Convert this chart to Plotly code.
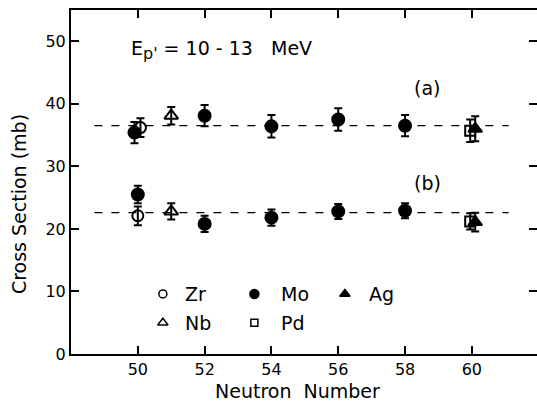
import plotly.graph_objects as go

# ---- data ----
# set (a)
a_Zr_x = [50.08];  a_Zr_y = [36.2];  a_Zr_e = [1.5]
a_Mo_x = [49.9, 52, 54, 56, 58]; a_Mo_y = [35.4, 38.1, 36.4, 37.5, 36.5]; a_Mo_e = [1.7, 1.7, 1.8, 1.8, 1.7]
a_Nb_x = [51];     a_Nb_y = [38.1];  a_Nb_e = [1.4]
a_Pd_x = [59.95];  a_Pd_y = [35.7];  a_Pd_e = [1.8]
a_Ag_x = [60.1];   a_Ag_y = [36.0];  a_Ag_e = [2.0]
# set (b)
b_Zr_x = [50];     b_Zr_y = [22.1];  b_Zr_e = [1.5]
b_Mo_x = [50, 52, 54, 56, 58]; b_Mo_y = [25.5, 20.8, 21.8, 22.8, 22.9]; b_Mo_e = [1.4, 1.3, 1.3, 1.2, 1.2]
b_Nb_x = [51];     b_Nb_y = [22.8];  b_Nb_e = [1.3]
b_Pd_x = [59.95];  b_Pd_y = [21.2];  b_Pd_e = [1.3]
b_Ag_x = [60.1];   b_Ag_y = [21.1];  b_Ag_e = [1.5]
# mean lines
mean_x = [48.7, 61.1]
mean_a = 36.5
mean_b = 22.6

x_ticks = [50, 52, 54, 56, 58, 60]
y_ticks = [0, 10, 20, 30, 40, 50]

FONT = "DejaVu Sans"
styles = {
    "Zr": dict(symbol="circle-open", size=11),
    "Mo": dict(symbol="circle", size=12),
    "Nb": dict(symbol="triangle-up-open", size=12),
    "Pd": dict(symbol="square-open", size=10),
    "Ag": dict(symbol="triangle-up", size=12),
}

fig = go.Figure()

for yv in (mean_a, mean_b):
    fig.add_trace(go.Scatter(x=mean_x, y=[yv, yv], mode="lines",
                             line=dict(color="black", width=1.3, dash="8px,9px"),
                             showlegend=False, hoverinfo="skip"))

series = [
    ("Zr", a_Zr_x, a_Zr_y, a_Zr_e), ("Zr", b_Zr_x, b_Zr_y, b_Zr_e),
    ("Nb", a_Nb_x, a_Nb_y, a_Nb_e), ("Nb", b_Nb_x, b_Nb_y, b_Nb_e),
    ("Pd", a_Pd_x, a_Pd_y, a_Pd_e), ("Pd", b_Pd_x, b_Pd_y, b_Pd_e),
    ("Mo", a_Mo_x, a_Mo_y, a_Mo_e), ("Mo", b_Mo_x, b_Mo_y, b_Mo_e),
    ("Ag", a_Ag_x, a_Ag_y, a_Ag_e), ("Ag", b_Ag_x, b_Ag_y, b_Ag_e),
]
for name, xs, ys, es in series:
    st = styles[name]
    fig.add_trace(go.Scatter(
        x=xs, y=ys, mode="markers", name=name, showlegend=False,
        marker=dict(symbol=st["symbol"], size=st["size"], color="black",
                    line=dict(color="black", width=2)),
        error_y=dict(type="data", array=es, visible=True, color="black",
                     thickness=2, width=4),
    ))

# custom legend (markers in data space, labels as annotations)
legend_items = [("Zr", 50.75, 9.6, 0.6), ("Mo", 53.49, 9.6, 0.75), ("Ag", 56.2, 9.6, 0.65),
                ("Nb", 50.75, 5.0, 0.6), ("Pd", 53.49, 5.0, 0.75)]
for name, lx, ly, dx in legend_items:
    st = styles[name]
    fig.add_trace(go.Scatter(
        x=[lx], y=[ly], mode="markers", showlegend=False, hoverinfo="skip",
        marker=dict(symbol=st["symbol"], size=st["size"] - 3, color="black",
                    line=dict(color="black", width=1.5))))
    fig.add_annotation(x=lx + dx, y=ly, text=name, showarrow=False,
                       xanchor="left", yanchor="middle",
                       font=dict(family=FONT, size=19, color="black"))

fig.add_annotation(xref="paper", yref="paper", x=0.125, y=0.884,
                   text="E<sub><span style='font-size:16px'>p'</span></sub> = 10 - 13   MeV",
                   showarrow=False, xanchor="left", yanchor="middle",
                   font=dict(family=FONT, size=19, color="black"))
fig.add_annotation(x=58.2, y=42.6, text="(a)", showarrow=False,
                   xanchor="left", yanchor="middle",
                   font=dict(family=FONT, size=19, color="black"))
fig.add_annotation(x=58.2, y=27.4, text="(b)", showarrow=False,
                   xanchor="left", yanchor="middle",
                   font=dict(family=FONT, size=19, color="black"))

# axis titles as annotations (positioned like the original)
fig.add_annotation(xref="paper", yref="paper", x=0.485, y=-0.108,
                   text="Neutron  Number", showarrow=False,
                   xanchor="center", yanchor="middle",
                   font=dict(family=FONT, size=19, color="black"))
fig.add_annotation(xref="paper", yref="paper", x=-0.11, y=0.435,
                   text="Cross Section (mb)", showarrow=False, textangle=-90,
                   xanchor="center", yanchor="middle",
                   font=dict(family=FONT, size=19, color="black"))

axis_common = dict(showline=True, linecolor="black", linewidth=2, mirror="ticks",
                   ticks="inside", ticklen=8, tickwidth=2, tickcolor="black",
                   showgrid=False, zeroline=False, automargin=False,
                   tickfont=dict(family=FONT, size=16, color="black"))
fig.update_xaxes(range=[48, 61.95], tickvals=x_ticks, **axis_common)
fig.update_yaxes(range=[0, 55], tickvals=y_ticks, **axis_common)

fig.update_layout(width=537, height=405, autosize=False,
                  margin=dict(l=71, r=0, t=10, b=51),
                  paper_bgcolor="white", plot_bgcolor="white",
                  showlegend=False)

fig.write_html("out.html",
               config={"displayModeBar": False, "responsive": False},
               post_script="document.body.style.margin='0';"
                           "document.body.style.overflow='hidden';")
